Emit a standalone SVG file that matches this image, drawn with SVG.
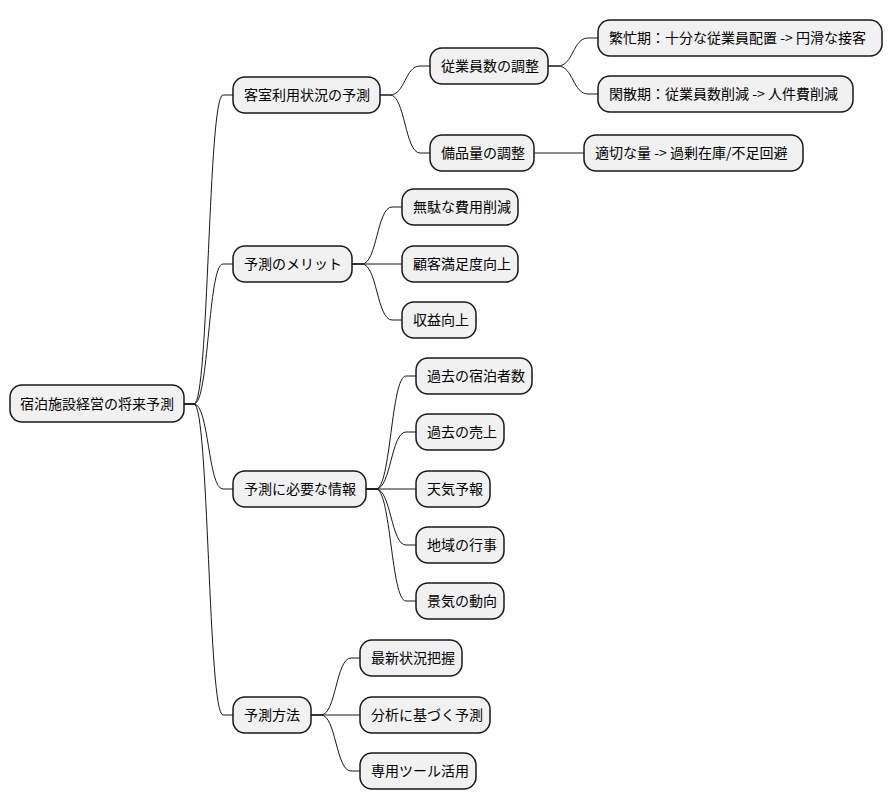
<svg xmlns="http://www.w3.org/2000/svg" width="892" height="809" viewBox="0 0 892 809">
<style>
.n rect{fill:#F1F1F1;stroke:#181818;stroke-width:1.5}
.n text{font-family:"Noto Sans CJK JP","Noto Sans",sans-serif;font-size:14px;fill:#000}
#c path{fill:none;stroke:#181818;stroke-width:1}
</style>
<rect width="892" height="809" fill="#fff"/>
<g id="c">
<path d="M184 404 L194 404 C209 404 208 95 223 95 L233 95"/>
<path d="M184 404 L194 404 C209 404 208 264 223 264 L233 264"/>
<path d="M184 404 L194 404 C209 404 208 489 223 489 L233 489"/>
<path d="M184 404 L194 404 C209 404 208 715 223 715 L233 715"/>
<path d="M380 95 L390 95 C405 95 405 66 420 66 L430 66"/>
<path d="M380 95 L390 95 C405 95 405 153 420 153 L430 153"/>
<path d="M548 66 L558 66 C573 66 573 38 588 38 L598 38"/>
<path d="M548 66 L558 66 C573 66 573 94 588 94 L598 94"/>
<path d="M534 153 L584 153"/>
<path d="M352 264 L362 264 C377 264 377 207 392 207 L402 207"/>
<path d="M352 264 L402 264"/>
<path d="M352 264 L362 264 C377 264 377 320 392 320 L402 320"/>
<path d="M366 489 L376 489 C391 489 391 376 406 376 L416 376"/>
<path d="M366 489 L376 489 C391 489 391 432 406 432 L416 432"/>
<path d="M366 489 L416 489"/>
<path d="M366 489 L376 489 C391 489 391 545 406 545 L416 545"/>
<path d="M366 489 L376 489 C391 489 391 601 406 601 L416 601"/>
<path d="M311 715 L321 715 C336 715 336 658 351 658 L360 658"/>
<path d="M311 715 L360 715"/>
<path d="M311 715 L321 715 C336 715 336 771 351 771 L360 771"/>
</g>
<g id="root" class="n"><rect x="10" y="385" width="174" height="37" rx="12"/><text x="20" y="409">宿泊施設経営の将来予測</text></g>
<g id="n1" class="n"><rect x="233" y="77" width="147" height="36" rx="12"/><text x="244" y="100">客室利用状況の予測</text></g>
<g id="n2" class="n"><rect x="233" y="246" width="119" height="36" rx="12"/><text x="244" y="269">予測のメリット</text></g>
<g id="n3" class="n"><rect x="233" y="471" width="133" height="36" rx="12"/><text x="244" y="494">予測に必要な情報</text></g>
<g id="n4" class="n"><rect x="233" y="697" width="78" height="36" rx="12"/><text x="244" y="720">予測方法</text></g>
<g id="n11" class="n"><rect x="430" y="48" width="118" height="36" rx="12"/><text x="441" y="71">従業員数の調整</text></g>
<g id="n12" class="n"><rect x="430" y="135" width="104" height="36" rx="12"/><text x="441" y="158">備品量の調整</text></g>
<g id="n111" class="n"><rect x="598" y="20" width="284" height="36" rx="12"/><text x="609" y="43">繁忙期：十分な従業員配置 -&gt; 円滑な接客</text></g>
<g id="n112" class="n"><rect x="598" y="76" width="255" height="36" rx="12"/><text x="609" y="99">閑散期：従業員数削減 -&gt; 人件費削減</text></g>
<g id="n121" class="n"><rect x="584" y="135" width="219" height="36" rx="12"/><text x="595" y="158">適切な量 -&gt; 過剰在庫/不足回避</text></g>
<g id="n21" class="n"><rect x="402" y="189" width="116" height="36" rx="12"/><text x="413" y="212">無駄な費用削減</text></g>
<g id="n22" class="n"><rect x="402" y="246" width="116" height="36" rx="12"/><text x="413" y="269">顧客満足度向上</text></g>
<g id="n23" class="n"><rect x="402" y="302" width="74" height="36" rx="12"/><text x="413" y="325">収益向上</text></g>
<g id="n31" class="n"><rect x="416" y="358" width="116" height="36" rx="12"/><text x="427" y="381">過去の宿泊者数</text></g>
<g id="n32" class="n"><rect x="416" y="414" width="88" height="36" rx="12"/><text x="427" y="437">過去の売上</text></g>
<g id="n33" class="n"><rect x="416" y="471" width="74" height="36" rx="12"/><text x="427" y="494">天気予報</text></g>
<g id="n34" class="n"><rect x="416" y="527" width="88" height="36" rx="12"/><text x="427" y="550">地域の行事</text></g>
<g id="n35" class="n"><rect x="416" y="583" width="88" height="36" rx="12"/><text x="427" y="606">景気の動向</text></g>
<g id="n41" class="n"><rect x="360" y="640" width="102" height="36" rx="12"/><text x="371" y="663">最新状況把握</text></g>
<g id="n42" class="n"><rect x="360" y="697" width="130" height="36" rx="12"/><text x="371" y="720">分析に基づく予測</text></g>
<g id="n43" class="n"><rect x="360" y="753" width="116" height="36" rx="12"/><text x="371" y="776">専用ツール活用</text></g>
</svg>
